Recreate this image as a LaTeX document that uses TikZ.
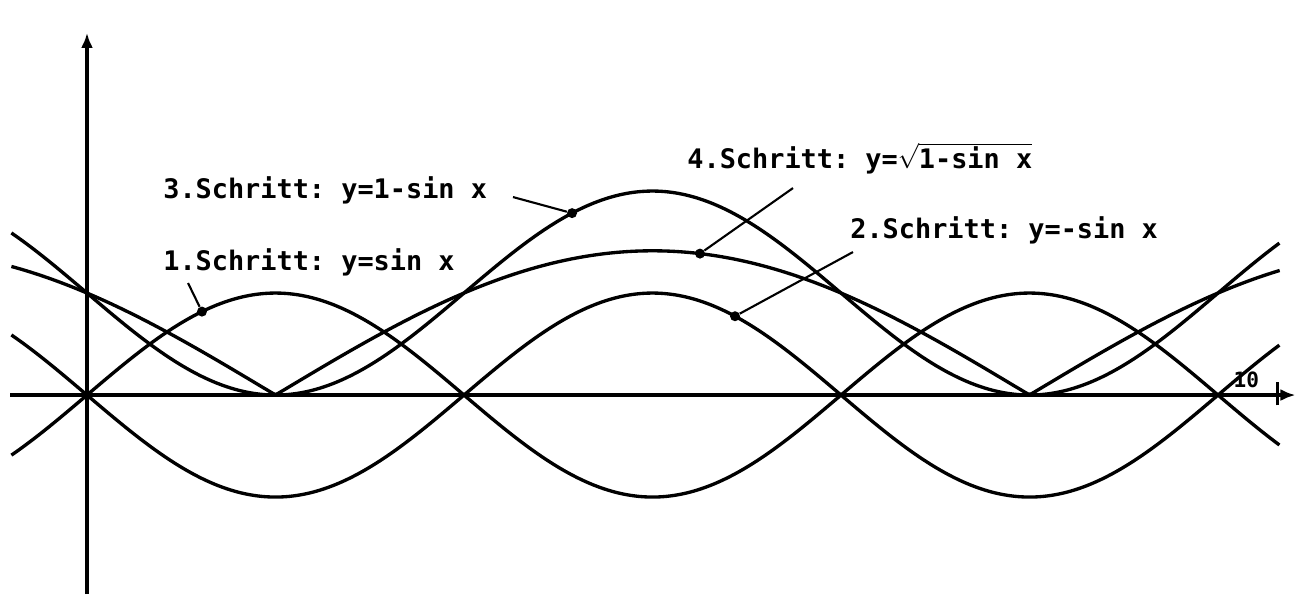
\documentclass[tikz,border=0pt]{standalone}
\usepackage{fontspec}
\setmonofont{DejaVu Sans Mono}
\usetikzlibrary{arrows.meta,positioning}
\tikzset{
  axis/.style={line width=2.6pt, -{Latex[length=3mm,width=2.4mm]}},
  curve/.style={line width=1.9pt, line join=round},
  lbl/.style={anchor=base west, inner sep=0pt, font=\ttfamily\bfseries\fontsize{15.3}{18}\selectfont},
  pointer/.style={line width=1.2pt},
  dot/.style={circle, fill, inner sep=0pt, minimum size=2mm},
}

\begin{document}
\begin{tikzpicture}[x=2.4cm, y=2.04cm]
  \useasboundingbox (-0.725,-1.951) rectangle (10.083,3.873);

  % axes
  \coordinate (xleft) at (-0.64,0);
  \coordinate (xright) at (10.07,0);
  \coordinate (ybot) at (0,-1.951);
  \coordinate (ytop) at (0,3.55);
  \draw[axis] (xleft) -- (xright);
  \draw[axis] (ybot) -- (ytop);
  \coordinate (tickb) at (9.92,-0.1);
  \coordinate (tickt) at (9.92,0.13);
  \draw[line width=1.9pt] (tickb) -- (tickt);
  \node[font=\ttfamily\bfseries\fontsize{12}{14}\selectfont, inner sep=0pt] (ten) at (9.66,0.15) {10};

  % the four curves
  \draw[curve] plot[domain=-0.63:9.94, samples=250, smooth] (\x,{sin(\x r)});
  \draw[curve] plot[domain=-0.63:9.94, samples=250, smooth] (\x,{-sin(\x r)});
  \draw[curve] plot[domain=-0.63:9.94, samples=250, smooth] (\x,{1-sin(\x r)});
  \draw[curve] plot[domain=-0.63:9.94, samples=500] (\x,{sqrt(abs(1-sin(\x r)))});

  % labels
  \node[lbl] (step3) at (0.633,1.931) {3.Schritt: y=1-sin x};
  \node[lbl] (step1) at (0.633,1.225) {1.Schritt: y=sin x};
  \node[lbl] (step4) at (5.0,2.225) {4.Schritt: y=$\sqrt{\mbox{1-sin x}}$};
  \node[lbl] (step2) at (6.358,1.539) {2.Schritt: y=-sin x};

  % dots on the curves
  \node[dot] (d1) at (0.958,{sin(0.958 r)}) {};
  \node[dot] (d3) at (4.042,{1-sin(4.042 r)}) {};
  \node[dot] (d4) at (5.108,{sqrt(1-sin(5.108 r))}) {};
  \node[dot] (d2) at (5.4,{-sin(5.4 r)}) {};

  % pointers
  \coordinate (p1) at (0.842,1.098);
  \coordinate (p3) at (3.55,1.941);
  \coordinate (p4) at (5.883,2.029);
  \coordinate (p2) at (6.383,1.402);
  \draw[pointer] (p1) -- (d1);
  \draw[pointer] (p3) -- (d3);
  \draw[pointer] (p4) -- (d4);
  \draw[pointer] (p2) -- (d2);

\end{tikzpicture}
\end{document}
